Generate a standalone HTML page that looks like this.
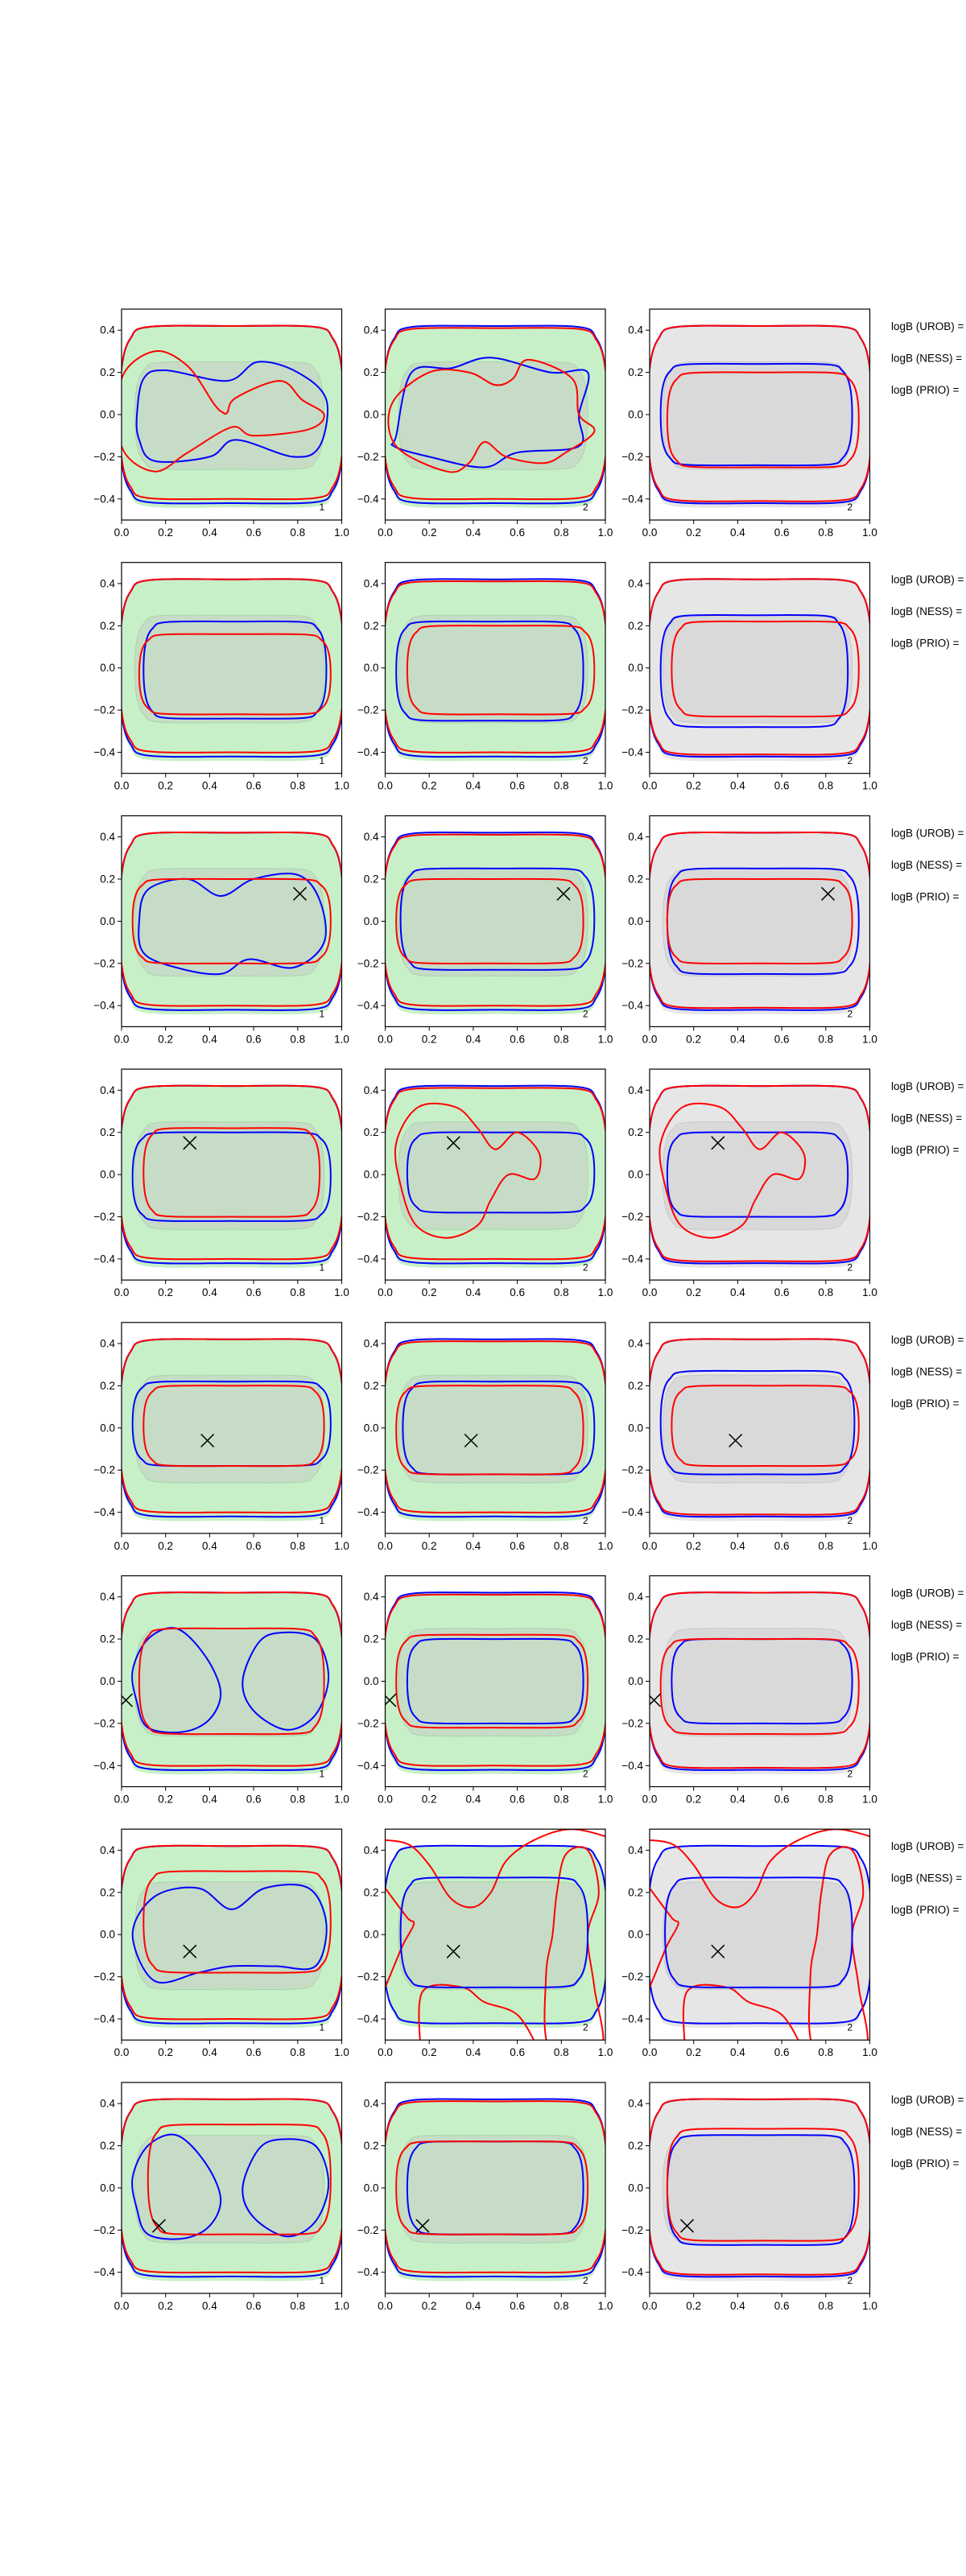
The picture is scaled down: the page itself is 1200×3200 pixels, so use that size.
<!DOCTYPE html>
<html><head><meta charset="utf-8"><style>
html,body{margin:0;padding:0;background:#fff}
svg{display:block}
text{font-family:"Liberation Sans","DejaVu Sans",sans-serif;fill:#000}
</style></head><body>
<svg id="fig" width="1200" height="3200" viewBox="0 0 1200 3200" xmlns="http://www.w3.org/2000/svg"></svg>
<script>
// ---- data ----
const xTicks=[0,0.2,0.4,0.6,0.8,1.0];
const yTicks=[-0.4,-0.2,0,0.2,0.4];
const xTickLabels=["0.0","0.2","0.4","0.6","0.8","1.0"];
const yTickLabels=["\u22120.4","\u22120.2","0.0","0.2","0.4"];
const legendLabels=["logB (UROB) =","logB (NESS) =","logB (PRIO) ="];
const panelTags=["1","2","2"];
const markers=[null,null,[0.81,0.13],[0.31,0.15],[0.39,-0.06],[0.02,-0.09],[0.31,-0.08],[0.17,-0.18]];
const outerBlue=[[-0.01,1.01,-0.42,0.42],[-0.01,1.01,-0.42,0.42],[-0.01,1.01,-0.42,0.42]];
const outerRed=[[-0.01,1.01,-0.4,0.42],[-0.01,1.01,-0.4,0.41],[-0.01,1.01,-0.41,0.42]];
const outerFill=[-0.01,1.01,-0.44,0.42];
const innerFill=[0.06,0.92,-0.26,0.25];
const b00=[[0.07,0],[0.1,0.17],[0.2,0.21],[0.48,0.16],[0.62,0.25],[0.8,0.2],[0.93,0.07],[0.9,-0.15],[0.78,-0.2],[0.52,-0.12],[0.4,-0.2],[0.15,-0.22],[0.08,-0.12]];
const b01=[[0.05,-0.1],[0.12,0.2],[0.3,0.22],[0.48,0.27],[0.75,0.2],[0.92,0.2],[0.88,0],[0.88,-0.15],[0.6,-0.18],[0.45,-0.25],[0.2,-0.2],[0.04,-0.15]];
const b20=[[0.08,0],[0.12,0.15],[0.3,0.2],[0.45,0.12],[0.6,0.2],[0.8,0.22],[0.9,0.1],[0.92,-0.1],[0.78,-0.22],[0.58,-0.18],[0.45,-0.25],[0.25,-0.22],[0.1,-0.15]];
const b60=[[0.05,0],[0.15,0.18],[0.35,0.22],[0.5,0.12],[0.65,0.22],[0.85,0.22],[0.93,0.05],[0.88,-0.15],[0.7,-0.15],[0.5,-0.15],[0.35,-0.18],[0.15,-0.22]];
const twoLobeA=[[0.05,0.05],[0.12,0.2],[0.25,0.25],[0.38,0.12],[0.45,-0.05],[0.4,-0.18],[0.28,-0.24],[0.12,-0.22],[0.07,-0.1]];
const twoLobeB=[[0.55,0],[0.62,0.18],[0.72,0.23],[0.88,0.2],[0.94,0.02],[0.88,-0.16],[0.75,-0.23],[0.6,-0.14]];
const r00=[[0.0,0.17],[0.15,0.3],[0.3,0.23],[0.42,0.05],[0.46,0.01],[0.48,0.01],[0.52,0.08],[0.72,0.16],[0.82,0.07],[0.92,0],[0.85,-0.07],[0.6,-0.1],[0.5,-0.06],[0.3,-0.18],[0.15,-0.27],[0,-0.15]];
const r01=[[0.03,0.05],[0.2,0.2],[0.38,0.2],[0.5,0.14],[0.58,0.17],[0.65,0.26],[0.85,0.17],[0.88,0],[0.95,-0.08],[0.82,-0.18],[0.72,-0.23],[0.55,-0.2],[0.45,-0.13],[0.38,-0.23],[0.28,-0.27],[0.05,-0.15]];
const irregRed=[[0.05,0.15],[0.15,0.32],[0.32,0.32],[0.42,0.22],[0.5,0.12],[0.6,0.2],[0.7,0.1],[0.68,-0.02],[0.56,0.0],[0.48,-0.12],[0.42,-0.24],[0.28,-0.3],[0.14,-0.24],[0.07,-0.05]];
const innerBlue=[
 [[b00],[b01],[[0.05,0.92,-0.24,0.24]]],
 [[[0.1,0.93,-0.24,0.22]],[[0.05,0.9,-0.25,0.22]],[[0.05,0.9,-0.28,0.25]]],
 [[b20],[[0.07,0.95,-0.23,0.25]],[[0.08,0.95,-0.25,0.25]]],
 [[[0.05,0.95,-0.22,0.2]],[[0.1,0.95,-0.18,0.2]],[[0.08,0.9,-0.2,0.2]]],
 [[[0.05,0.95,-0.18,0.22]],[[0.08,0.95,-0.22,0.22]],[[0.05,0.93,-0.22,0.27]]],
 [[twoLobeA,twoLobeB],[[0.1,0.9,-0.2,0.2]],[[0.1,0.92,-0.2,0.2]]],
 [[b60],[[0.07,0.92,-0.25,0.27]],[[0.07,0.92,-0.25,0.27]]],
 [[twoLobeA,twoLobeB],[[0.1,0.9,-0.22,0.22]],[[0.08,0.93,-0.27,0.25]]]
];
const innerRed=[
 [[r00],[r01],[[0.08,0.95,-0.25,0.2]]],
 [[[0.08,0.95,-0.22,0.16]],[[0.1,0.95,-0.22,0.2]],[[0.1,0.95,-0.23,0.22]]],
 [[[0.05,0.95,-0.2,0.2]],[[0.05,0.9,-0.2,0.2]],[[0.08,0.92,-0.2,0.2]]],
 [[[0.1,0.9,-0.2,0.22]],[irregRed],[irregRed]],
 [[[0.1,0.92,-0.18,0.2]],[[0.05,0.9,-0.22,0.2]],[[0.1,0.95,-0.18,0.2]]],
 [[[0.08,0.92,-0.25,0.25]],[[0.05,0.92,-0.22,0.22]],[[0.05,0.95,-0.25,0.2]]],
 [[[0.1,0.95,-0.18,0.3]],[],[]],
 [[[0.12,0.95,-0.22,0.3]],[[0.05,0.92,-0.22,0.22]],[[0.08,0.95,-0.25,0.28]]]
];
const row7RedA=[[-0.05,0.45],[0.1,0.43],[0.2,0.33],[0.3,0.17],[0.4,0.13],[0.48,0.2],[0.55,0.35],[0.68,0.45],[0.85,0.5],[1.05,0.45]];
const row7RedB=[[0,0.22],[0.1,0.08],[0.13,0.05],[0.08,-0.05],[0.02,-0.2],[-0.02,-0.3]];
const row7RedC=[[0.16,-0.55],[0.17,-0.27],[0.35,-0.25],[0.45,-0.32],[0.6,-0.38],[0.7,-0.55]];
const row7RedD=[[0.78,0.2],[0.82,0.38],[0.92,0.4],[0.97,0.2],[0.92,0],[0.95,-0.25],[0.98,-0.55],[0.75,-0.55],[0.73,-0.2],[0.76,0]];
// ---- layout ----
const colLeft=[151,478.5,807];
const axW=273.5, axH=262;
const rowTop0=384, rowPitch=314.7;
const NS="http://www.w3.org/2000/svg";
const svgRoot=document.getElementById('fig');
function el(tag,attrs,parent){const e=document.createElementNS(NS,tag);for(const k in attrs)e.setAttribute(k,attrs[k]);(parent||svgRoot).appendChild(e);return e;}
function boxPts(b){const x0=b[0],x1=b[1],y0=b[2],y1=b[3];const w=x1-x0,h=y1-y0,xc=(x0+x1)/2,yc=(y0+y1)/2;
 return [[x0,yc],[x0+w*0.012,y1-h*0.22],[x0+w*0.05,y1-h*0.07],[x0+w*0.13,y1-h*0.005],[xc,y1],[x1-w*0.13,y1-h*0.005],[x1-w*0.05,y1-h*0.07],[x1-w*0.012,y1-h*0.22],
  [x1,yc],[x1-w*0.012,y0+h*0.22],[x1-w*0.05,y0+h*0.07],[x1-w*0.13,y0+h*0.005],[xc,y0],[x0+w*0.13,y0+h*0.005],[x0+w*0.05,y0+h*0.07],[x0+w*0.012,y0+h*0.22]];}
function pathD(pts,closed,sx,sy){
 const P=pts.map(p=>[sx(p[0]),sy(p[1])]);const n=P.length;let d="M"+P[0][0].toFixed(1)+","+P[0][1].toFixed(1);
 const m=closed?n:n-1;
 for(let i=0;i<m;i++){const p0=P[closed?(i-1+n)%n:Math.max(i-1,0)],p1=P[i],p2=P[(i+1)%n],p3=P[closed?(i+2)%n:Math.min(i+2,n-1)];
  const a1=[p1[0]+(p2[0]-p0[0])/6,p1[1]+(p2[1]-p0[1])/6],a2=[p2[0]-(p3[0]-p1[0])/6,p2[1]-(p3[1]-p1[1])/6];
  d+="C"+a1[0].toFixed(1)+","+a1[1].toFixed(1)+" "+a2[0].toFixed(1)+","+a2[1].toFixed(1)+" "+p2[0].toFixed(1)+","+p2[1].toFixed(1);}
 return d+(closed?"Z":"");}
function shapePts(s){return (typeof s[0]==="number")?boxPts(s):s;}
for(let r=0;r<8;r++){
 const rowTop=rowTop0+r*rowPitch;
 for(let c=0;c<3;c++){
  const left=colLeft[c];
  const sx=v=>left+v*axW, sy=v=>rowTop+(0.5-v)*axH;
  const g=el('g',{});
  
  
  const cid='clip'+r+'_'+c;
  const cp=el('clipPath',{id:cid},g);el('rect',{x:left,y:rowTop,width:axW,height:axH},cp);
  const pg=el('g',{'clip-path':'url(#'+cid+')'},g);
  const fillC=c<2?'#c8f0c8':'#e6e6e6', innerC=c<2?'#c6dcc6':'#d9d9d9', innerS=c<2?'#a8d6a8':'#c8c8c8';
  const f1=el('path',{d:pathD(boxPts(outerFill),true,sx,sy),fill:fillC},pg);
  
  
  const f2=el('path',{d:pathD(boxPts(innerFill),true,sx,sy),fill:innerC,stroke:innerS,'stroke-width':1},pg);
  
  
  const ob=el('path',{d:pathD(boxPts(outerBlue[c]),true,sx,sy),fill:'none',stroke:'#0000ff','stroke-width':2},pg);
  
  
  if(r===6 && c>0){
   const reds=[[row7RedA,false],[row7RedB,false],[row7RedC,false],[row7RedD,true]];
   for(const item of reds){
    const p=el('path',{d:pathD(item[0],item[1],sx,sy),fill:'none',stroke:'#ff0000','stroke-width':2},pg);
    
    }
  } else {
   const orr=el('path',{d:pathD(boxPts(outerRed[c]),true,sx,sy),fill:'none',stroke:'#ff0000','stroke-width':2},pg);
   
   
  }
  for(const s of innerBlue[r][c]){const p=el('path',{d:pathD(shapePts(s),true,sx,sy),fill:'none',stroke:'#0000ff','stroke-width':2},pg);
   
   }
  for(const s of innerRed[r][c]){const p=el('path',{d:pathD(shapePts(s),true,sx,sy),fill:'none',stroke:'#ff0000','stroke-width':2},pg);
   
   }
  if(markers[r]){const mx=sx(markers[r][0]),my=sy(markers[r][1]);
   const mk=el('path',{d:'M'+(mx-8)+','+(my-8)+'L'+(mx+8)+','+(my+8)+'M'+(mx-8)+','+(my+8)+'L'+(mx+8)+','+(my-8),stroke:'#000','stroke-width':1.5},pg);
   
   }
  const t=el('text',{x:sx(0.91),y:sy(-0.455),'font-size':12,'text-anchor':'middle'},pg);t.textContent=panelTags[c];
  
  
  const fr=el('rect',{x:left,y:rowTop,width:axW,height:axH,fill:'none',stroke:'#000','stroke-width':1.2},g);
  
  
  xTicks.forEach((v,i)=>{const x=sx(v);el('line',{x1:x,x2:x,y1:rowTop+axH,y2:rowTop+axH+5,stroke:'#000'},g);
   const tl=el('text',{x:x,y:rowTop+axH+20,'font-size':13.5,'text-anchor':'middle'},g);tl.textContent=xTickLabels[i];
   
   });
  yTicks.forEach((v,i)=>{const y=sy(v);el('line',{x1:left-5,x2:left,y1:y,y2:y,stroke:'#000'},g);
   const tl=el('text',{x:left-8,y:y+4.5,'font-size':13.5,'text-anchor':'end'},g);tl.textContent=yTickLabels[i];
   
   });
 }
 legendLabels.forEach((s,i)=>{const t=el('text',{x:1107,y:rowTop+26+i*39.5,'font-size':13.5});t.textContent=s;
  
  });
}
</script>
</body></html>
